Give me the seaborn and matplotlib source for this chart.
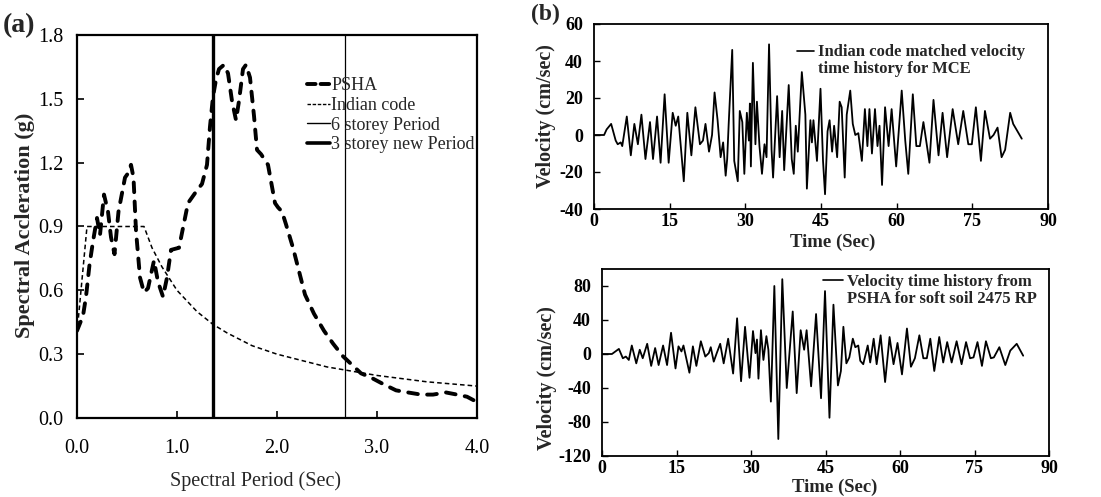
import matplotlib
matplotlib.use("Agg")
import matplotlib.pyplot as plt
import seaborn as sns
from matplotlib.lines import Line2D

# ---------------- data: panel (a) response spectra ----------------
psha_T = [0.00, 0.06, 0.09, 0.125, 0.16, 0.20, 0.23, 0.27, 0.31, 0.34,
          0.375, 0.415, 0.48, 0.51, 0.54, 0.565, 0.59, 0.63, 0.67, 0.71,
          0.77, 0.81, 0.86, 0.90, 0.94, 1.02, 1.11, 1.20, 1.25, 1.30,
          1.33, 1.36, 1.39, 1.42, 1.47, 1.51, 1.55, 1.59, 1.62, 1.66,
          1.69, 1.73, 1.77, 1.80, 1.84, 1.91, 1.98, 2.01, 2.05, 2.09,
          2.16, 2.22, 2.28, 2.37, 2.47, 2.56, 2.66, 2.75, 2.84, 2.94,
          3.06, 3.19, 3.31, 3.44, 3.56, 3.69, 3.80, 3.90, 4.00]
psha_S = [0.41, 0.48, 0.57, 0.72, 0.83, 0.94, 0.86, 1.05, 0.97, 0.85,
          0.77, 0.97, 1.13, 1.15, 1.19, 1.13, 0.88, 0.66, 0.59, 0.61,
          0.74, 0.64, 0.57, 0.66, 0.79, 0.80, 1.01, 1.07, 1.10, 1.19,
          1.37, 1.51, 1.59, 1.64, 1.66, 1.62, 1.49, 1.40, 1.49, 1.64,
          1.66, 1.60, 1.42, 1.26, 1.24, 1.19, 1.01, 0.99, 0.97, 0.91,
          0.80, 0.69, 0.58, 0.49, 0.41, 0.35, 0.29, 0.25, 0.21, 0.19,
          0.16, 0.13, 0.12, 0.11, 0.11, 0.12, 0.11, 0.10, 0.075]

code_T = [0.0, 0.1, 0.67, 0.75, 0.85, 1.0, 1.1, 1.2, 1.36, 1.5,
          1.75, 2.0, 2.25, 2.5, 2.75, 3.0, 3.25, 3.5, 3.75, 4.0]
code_S = [0.40, 0.90, 0.90, 0.80, 0.71, 0.60, 0.55, 0.50, 0.44, 0.40,
          0.34, 0.30, 0.27, 0.24, 0.22, 0.20, 0.185, 0.17, 0.16, 0.15]

period_6storey = 2.68
period_3storey = 1.36

a_xticks = [0.0, 1.0, 2.0, 3.0, 4.0]
a_xticklabels = ["0.0", "1.0", "2.0", "3.0", "4.0"]
a_yticks = [0.0, 0.3, 0.6, 0.9, 1.2, 1.5, 1.8]
a_yticklabels = ["0.0", "0.3", "0.6", "0.9", "1.2", "1.5", "1.8"]

# ---------------- data: panel (b) velocity time histories ----------------
mce_t = [0, 2, 2.5, 3.4, 4.3, 4.7, 5.3, 5.6, 6.5, 7.3,
         8.0, 8.7, 9.4, 10.2, 11.1, 11.7, 12.5, 13.2, 14.0, 14.8,
         15.6, 16.2, 16.7, 17.8, 18.5, 19.3, 20.1, 21.0, 21.6, 22.1,
         22.8, 23.4, 23.9, 24.5, 25.1, 25.6, 26.1, 26.4, 26.7, 27.4,
         27.8, 28.5, 28.9, 29.4, 29.8, 30.3, 30.7, 30.9, 31.1, 31.5,
         32.0, 32.3, 32.8, 33.3, 33.8, 34.2, 34.7, 35.2, 35.5, 36.3,
         36.8, 37.3, 37.7, 38.6, 39.2, 39.6, 40.0, 40.4, 41.2, 41.9,
         42.2, 42.9, 43.2, 43.5, 44.2, 44.9, 45.4, 45.8, 46.3, 46.7,
         47.2, 47.6, 48.2, 48.7, 49.1, 49.7, 50.1, 50.8, 51.3, 51.8,
         52.4, 53.1, 53.7, 54.2, 54.6, 55.1, 55.7, 56.2, 56.6, 57.1,
         57.7, 58.4, 59.0, 59.9, 61.0, 61.7, 62.3, 63.2, 63.9, 64.6,
         65.3, 66.5, 67.3, 68.3, 69.1, 70.0, 71.1, 72.2, 73.2, 74.2,
         74.9, 75.7, 76.7, 77.5, 78.5, 79.2, 80.0, 80.8, 81.5, 82.5,
         83.1, 84.8]
mce_v = [0, 0, 3, 6, -3, -5, -4, -6, 10, -11,
         6, -5, 11, -13, 7, -13, 10, -15, 22, -15,
         12, 5, 10, -25, 12, -11, 15, -5, -3, 6,
         -9, 0, 23, 8, -12, -4, -22, -13, 6, 46,
         -14, -25, 13, 7, -21, 12, -3, 17, -17, 39,
         -5, 18, -6, -21, -5, -12, 49, -8, -23, 21,
         -12, 13, -19, 27, -13, -21, 5, -9, 34, 11,
         -29, 8, -4, 8, -14, 25, -14, -32, 2, 8,
         -9, 5, -12, 18, 15, -23, 11, 24, 6, 0,
         1, -14, 14, -6, 14, -10, 14, -6, 5, -27,
         15, -6, 14, -17, 24, -3, -21, 22, -6, -6,
         7, -15, 19, -11, 12, -12, 14, -5, 13, -5,
         -5, 15, -14, 13, -2, 0, 4, -12, -8, 12,
         6, -2]

psha_t = [0, 2, 3.4, 4.2, 4.8, 5.4, 6.0, 6.9, 7.6, 8.2,
          9.1, 9.9, 10.7, 11.4, 12.3, 13.1, 13.9, 14.8, 15.4, 16.0,
          16.4, 17.6, 18.3, 19.0, 19.9, 20.8, 21.5, 21.9, 22.5, 23.1,
          23.8, 24.5, 25.4, 26.4, 27.2, 28.0, 28.8, 29.7, 30.4, 30.9,
          31.2, 31.5, 32.0, 32.5, 33.1, 33.5, 34.0, 34.7, 35.5, 36.3,
          37.2, 38.4, 39.2, 40.0, 40.7, 41.2, 42.1, 43.1, 44.1, 44.9,
          45.8, 46.6, 47.5, 48.1, 48.6, 49.2, 49.8, 50.5, 51.0, 51.6,
          52.0, 52.6, 53.5, 54.0, 54.7, 55.3, 56.1, 57.0, 57.9, 58.7,
          59.5, 60.4, 61.4, 62.2, 63.0, 63.9, 64.7, 65.4, 66.1, 66.9,
          67.9, 68.7, 69.5, 70.4, 71.4, 72.4, 73.3, 74.1, 74.8, 75.6,
          76.5, 77.3, 78.3, 78.9, 80.0, 81.2, 82.2, 83.5, 84.8]
psha_v = [0, 0, 6, -5, -3, -7, 10, -11, 5, -5,
          12, -14, 7, -13, 10, -13, 25, -17, 9, 3,
          10, -22, 9, -14, 15, -3, 1, 8, -9, 1,
          12, -11, 18, -23, 42, -32, 32, -28, 27, 1,
          17, -29, 28, -7, 21, 5, -56, 80, -100, 88,
          -40, 50, -46, 28, 5, 28, -38, 47, -52, 74,
          -75, 58, -37, -20, 32, -11, -4, 18, 8, 10,
          -8, -12, 10, -10, 18, -12, 22, -33, 20, -12,
          13, -24, 30, -15, -5, 22, -5, -5, 18, -20,
          20, -10, 14, -10, 15, -12, 14, -5, -4, 14,
          -14, 15, -5, -4, 8, -13, 4, 12, -2]

b_xticks = [0, 15, 30, 45, 60, 75, 90]
b1_yticks = [-40, -20, 0, 20, 40, 60]
b2_yticks = [-120, -80, -40, 0, 40, 80]

legend_a = ["PSHA", "Indian code", "6 storey Period", "3 storey new Period"]
legend_b1 = ["Indian code matched velocity", "time history for MCE"]
legend_b2 = ["Velocity time history from", "PSHA for soft soil 2475 RP"]

# ---------------- style ----------------
sns.set_theme(style="ticks")
plt.rcParams["font.family"] = ["Liberation Serif", "DejaVu Serif"]
plt.rcParams["axes.unicode_minus"] = False
plt.rcParams["axes.edgecolor"] = "black"
plt.rcParams["xtick.color"] = "black"
plt.rcParams["ytick.color"] = "black"

fig = plt.figure(figsize=(11.01, 4.97), dpi=100)
W, H = 1101, 497
axa = fig.add_axes([77 / W, 1 - 418 / H, 400 / W, 383 / H])
axb1 = fig.add_axes([594 / W, 1 - 209 / H, 454 / W, 185 / H])
axb2 = fig.add_axes([602 / W, 1 - 456 / H, 447 / W, 187 / H])

# ---------------- panel (a) ----------------
sns.lineplot(x=psha_T, y=psha_S, ax=axa, color="black", lw=2.8,
             linestyle=(0, (2.5, 2.4)), dash_capstyle="round",
             sort=False, estimator=None)
sns.lineplot(x=code_T, y=code_S, ax=axa, color="black", lw=1.1,
             linestyle=(0, (3.0, 2.0)), sort=False, estimator=None)
axa.axvline(period_6storey, color="black", lw=0.9)
axa.axvline(period_3storey, color="black", lw=2.4)

axa.set_xlim(0, 4)
axa.set_ylim(0, 1.8)
axa.set_xticks(a_xticks)
axa.set_xticklabels(a_xticklabels)
axa.set_yticks(a_yticks)
axa.set_yticklabels(a_yticklabels)
axa.tick_params(axis="both", direction="in", length=5, width=1.2,
                labelsize=14.5)
axa.tick_params(axis="x", pad=15)
axa.tick_params(axis="y", pad=10)
for s in axa.spines.values():
    s.set_linewidth(1.6)
axa.set_xlabel("Spectral Period (Sec)", fontsize=14.5)
axa.xaxis.set_label_coords(0.447, -0.138)
axa.set_ylabel("Spectral Accleration (g)", fontsize=16, fontweight="bold")
axa.yaxis.set_label_coords(-0.105, 0.504)

ha = [Line2D([], [], color="black", lw=2.8, linestyle=(0, (2.2, 1.3)),
             dash_capstyle="round"),
      Line2D([], [], color="black", lw=1.0, linestyle=(0, (2.5, 1.2))),
      Line2D([], [], color="black", lw=1.0),
      Line2D([], [], color="black", lw=2.6)]
axa.legend(ha, legend_a, loc="upper left", bbox_to_anchor=(0.575, 0.89),
           frameon=False, fontsize=13, handlelength=1.25,
           handletextpad=0.1, labelspacing=0.15, borderpad=0,
           borderaxespad=0)

# ---------------- panel (b) top ----------------
sns.lineplot(x=mce_t, y=mce_v, ax=axb1, color="black", lw=1.3,
             sort=False, estimator=None)
axb1.set_xlim(0, 90)
axb1.set_ylim(-40, 60)
axb1.set_xticks(b_xticks)
axb1.set_yticks(b1_yticks)
axb1.set_xticklabels([str(v) for v in b_xticks])
axb1.set_yticklabels([str(v) for v in b1_yticks])
axb1.set_xlabel("Time (Sec)", fontsize=13.5, fontweight="bold")
axb1.xaxis.set_label_coords(0.525, -0.135)
axb1.set_ylabel("Velocity (cm/sec)", fontsize=14.5, fontweight="bold")
axb1.yaxis.set_label_coords(-0.083, 0.5)

# ---------------- panel (b) bottom ----------------
sns.lineplot(x=psha_t, y=psha_v, ax=axb2, color="black", lw=1.3,
             sort=False, estimator=None)
axb2.set_xlim(0, 90)
axb2.set_ylim(-120, 100)
axb2.set_xticks(b_xticks)
axb2.set_yticks(b2_yticks)
axb2.set_xticklabels([str(v) for v in b_xticks])
axb2.set_yticklabels([str(v) for v in b2_yticks])
axb2.set_xlabel("Time (Sec)", fontsize=13.5, fontweight="bold")
axb2.xaxis.set_label_coords(0.52, -0.12)
axb2.set_ylabel("Velocity (cm/sec)", fontsize=14.5, fontweight="bold")
axb2.yaxis.set_label_coords(-0.1, 0.417)

for ax in (axb1, axb2):
    ax.tick_params(axis="both", direction="in", length=4, width=1.0,
                   labelsize=13)
    ax.tick_params(axis="x", pad=3)
    ax.tick_params(axis="y", pad=8)
    for lab in ax.get_xticklabels() + ax.get_yticklabels():
        lab.set_fontweight("bold")
    for s in ax.spines.values():
        s.set_linewidth(1.3)

hb = [Line2D([], [], color="black", lw=1.2), Line2D([], [], color="none")]
axb1.legend(hb, legend_b1, loc="upper left", bbox_to_anchor=(0.448, 0.89),
            frameon=False, prop={"size": 12, "weight": "bold"},
            handlelength=1.0, handletextpad=0.25, labelspacing=0.05,
            borderpad=0, borderaxespad=0)
axb2.legend(hb, legend_b2, loc="upper left", bbox_to_anchor=(0.494, 0.975),
            frameon=False, prop={"size": 12, "weight": "bold"},
            handlelength=1.2, handletextpad=0.25, labelspacing=0.05,
            borderpad=0, borderaxespad=0)

fig.text(3 / W, 1 - 13 / H, "(a)", fontsize=20, fontweight="bold", va="top")
fig.text(531 / W, 1 - 4 / H, "(b)", fontsize=17, fontweight="bold", va="top")

fig.savefig("out.png", dpi=100)
